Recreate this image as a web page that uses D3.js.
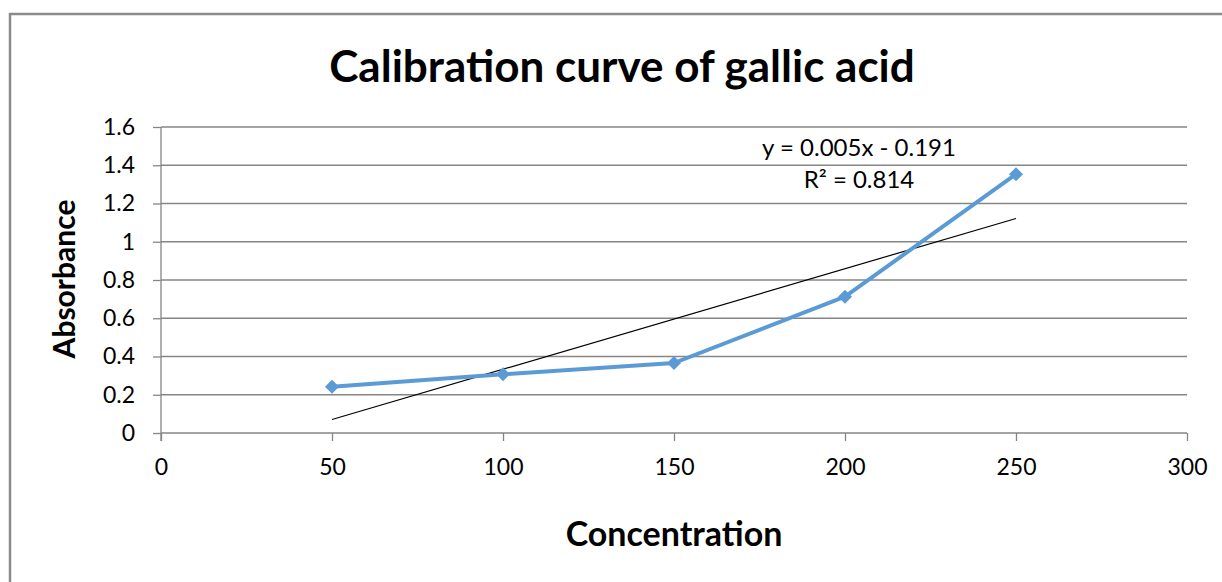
<!DOCTYPE html>
<meta charset="utf-8">
<style>
body { margin: 0; background: #fff; }
text { font-family: Lato, "Open Sans", sans-serif; fill: #000; }
.grid line { stroke: #868686; stroke-width: 1.3px; }
.axis path, .axis line { stroke: #868686; stroke-width: 1.3px; }
</style>
<svg></svg>
<script src="https://d3js.org/d3.v7.min.js"></script>
<script>

// data
var concentration = [50, 100, 150, 200, 250];
var absorbance = [0.242, 0.307, 0.366, 0.713, 1.353];
var xTicks = [0, 50, 100, 150, 200, 250, 300];
var yTicks = [0, 0.2, 0.4, 0.6, 0.8, 1, 1.2, 1.4, 1.6];
var equationLines = ["y = 0.005x - 0.191", "R² = 0.814"];

var width = 1222, height = 582;
var svg = d3.select("svg").attr("width", width).attr("height", height);

// outer chart frame (runs off the right and bottom edges)
svg.append("rect")
  .attr("x", 10).attr("y", 14)
  .attr("width", 1240).attr("height", 600)
  .attr("fill", "#fff")
  .attr("stroke", "#8a8a8a")
  .attr("stroke-width", 2.5);

var x = d3.scaleLinear().domain([0, 300]).range([161, 1187]);
var y = d3.scaleLinear().domain([0, 1.6]).range([433, 127]);

// horizontal gridlines
svg.append("g").attr("class", "grid")
  .selectAll("line")
  .data(yTicks.filter(function(d) { return d > 0; }))
  .enter().append("line")
    .attr("x1", x(0)).attr("x2", x(300))
    .attr("y1", function(d) { return y(d); })
    .attr("y2", function(d) { return y(d); });

// y axis
var yAxis = svg.append("g").attr("class", "axis")
  .attr("transform", "translate(" + x(0) + ",0)")
  .call(d3.axisLeft(y).tickValues(yTicks).tickSize(8).tickPadding(18)
    .tickFormat(function(d) { return String(d); }));
yAxis.select(".domain").attr("d", "M0," + y(1.6) + "V" + (y(0) + 8));
yAxis.selectAll("text").attr("font-size", 23).attr("fill", "#000").attr("font-family", "Lato");

// x axis
var xAxis = svg.append("g").attr("class", "axis")
  .attr("transform", "translate(0," + y(0) + ")")
  .call(d3.axisBottom(x).tickValues(xTicks).tickSize(8).tickPadding(18)
    .tickFormat(function(d) { return String(d); }));
xAxis.select(".domain").attr("d", "M" + x(0) + ",0H" + x(300));
xAxis.selectAll("text").attr("font-size", 23).attr("fill", "#000").attr("font-family", "Lato");

// linear trendline from least squares
var n = concentration.length;
var mx = d3.mean(concentration), my = d3.mean(absorbance);
var sxy = 0, sxx = 0;
for (var i = 0; i < n; i++) {
  sxy += (concentration[i] - mx) * (absorbance[i] - my);
  sxx += (concentration[i] - mx) * (concentration[i] - mx);
}
var slope = sxy / sxx, intercept = my - slope * mx;
var x0 = d3.min(concentration), x1 = d3.max(concentration);

svg.append("line")
  .attr("x1", x(x0)).attr("y1", y(slope * x0 + intercept))
  .attr("x2", x(x1)).attr("y2", y(slope * x1 + intercept))
  .attr("stroke", "#000").attr("stroke-width", 1.2);

// series line
var pts = concentration.map(function(c, i) { return [c, absorbance[i]]; });
svg.append("path")
  .datum(pts)
  .attr("fill", "none")
  .attr("stroke", "#5b9bd5")
  .attr("stroke-width", 4)
  .attr("stroke-linejoin", "round")
  .attr("d", d3.line().x(function(d) { return x(d[0]); }).y(function(d) { return y(d[1]); }));

// diamond markers
svg.append("g").selectAll("path")
  .data(pts)
  .enter().append("path")
    .attr("transform", function(d) { return "translate(" + x(d[0]) + "," + y(d[1]) + ")"; })
    .attr("d", "M0,-7L7,0L0,7L-7,0Z")
    .attr("fill", "#5b9bd5");

// trendline equation
svg.append("g").selectAll("text")
  .data(equationLines)
  .enter().append("text")
    .attr("x", 859)
    .attr("y", function(d, i) { return 156 + i * 32; })
    .attr("text-anchor", "middle")
    .attr("font-size", 24)
    .text(function(d) { return d; });

// titles
svg.append("text")
  .attr("x", 622).attr("y", 82)
  .attr("text-anchor", "middle")
  .attr("font-size", 44).attr("font-weight", "bold")
  .text("Calibration curve of gallic acid");

svg.append("text")
  .attr("x", 674).attr("y", 546)
  .attr("text-anchor", "middle")
  .attr("font-size", 34).attr("font-weight", "bold")
  .text("Concentration");

svg.append("text")
  .attr("transform", "translate(75,279) rotate(-90)")
  .attr("text-anchor", "middle")
  .attr("font-size", 30).attr("font-weight", "bold")
  .text("Absorbance");

</script>
